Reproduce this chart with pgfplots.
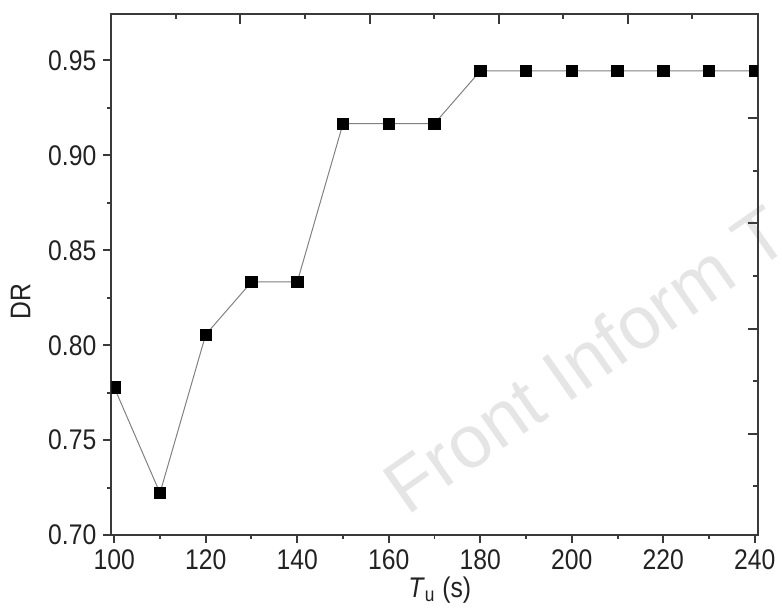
\documentclass[border=0pt]{standalone}
\usepackage{pgfplots}
\pgfplotsset{compat=1.18}
\usepackage{fontspec}
\setmainfont{Liberation Sans}[FakeStretch=0.87]
\newfontfamily\wmfont{Liberation Sans}
\definecolor{axisgray}{HTML}{3A3A3A}
\definecolor{linegray}{HTML}{808080}
\definecolor{wm}{HTML}{E5E5E5}
\definecolor{txt}{HTML}{222222}
\begin{document}
\begin{tikzpicture}
% pixel frame: 1px = 0.5pt, axis box lower-left at (112,535) px
\begin{scope}[x=0.5pt,y=-0.5pt,shift={(-112,-535)}]
  \path[use as bounding box] (0,0) rectangle (782,604);
  \node[wm,font=\wmfont\fontsize{37.5}{40}\selectfont,anchor=base west,rotate=35,inner sep=0pt] at (410,516) {Front Inform T};
\end{scope}
\begin{axis}[
  scale only axis,
  width=325.5pt, height=262.5pt,
  xmin=99.35, xmax=240.7,
  ymin=0.70, ymax=0.9746,
  xtick={100,120,...,240},
  ytick={0.70,0.75,0.80,0.85,0.90,0.95},
  minor x tick num=1, minor y tick num=1,
  xtick pos=left, ytick pos=left,
  tick align=outside,
  major tick length=4pt, minor tick length=2pt,
  axis line style={axisgray,line width=1pt},
  every tick/.style={axisgray,line width=1pt},
  tick label style={font=\fontsize{14.3}{16}\selectfont,text=txt},
  /pgf/number format/assume math mode=true,
  yticklabel style={/pgf/number format/.cd,fixed,fixed zerofill,precision=2},
  xticklabel style={/pgf/number format/.cd,fixed,precision=0},
  scaled y ticks=false,
  xlabel={\textit{T}\textsubscript{u} (s)},
  ylabel={DR},
  label style={font=\fontsize{14.3}{16}\selectfont,text=txt},
  xlabel style={at={(axis description cs:0.508,-0.105)},anchor=center},
  ylabel style={at={(axis description cs:-0.14,0.448)},anchor=center},
  clip marker paths=true,
]
\addplot[linegray, line width=0.5pt, mark=square*, mark size=2.9pt,
  mark options={fill=black,draw=black,line width=0.3pt}]
  coordinates {
  (100,0.7778) (110,0.7222) (120,0.8056) (130,0.8333) (140,0.8333)
  (150,0.9167) (160,0.9167) (170,0.9167) (180,0.9444) (190,0.9444)
  (200,0.9444) (210,0.9444) (220,0.9444) (230,0.9444) (240,0.9444)
  };
\end{axis}
\begin{axis}[
  scale only axis,
  width=325.5pt, height=262.5pt,
  xmin=0, xmax=651, ymin=0, ymax=525,
  axis line style={draw=none},
  xtick={130,260,390,520}, minor xtick={65,195,325,455,585},
  ytick={102,208,314,420}, minor ytick={49,155,261,367},
  xtick pos=right, ytick pos=right,
  tick align=inside,
  xticklabels={}, yticklabels={},
  major tick length=5pt, minor tick length=2.5pt,
  every tick/.style={axisgray,line width=1pt},
]
\end{axis}
\end{tikzpicture}
\end{document}
